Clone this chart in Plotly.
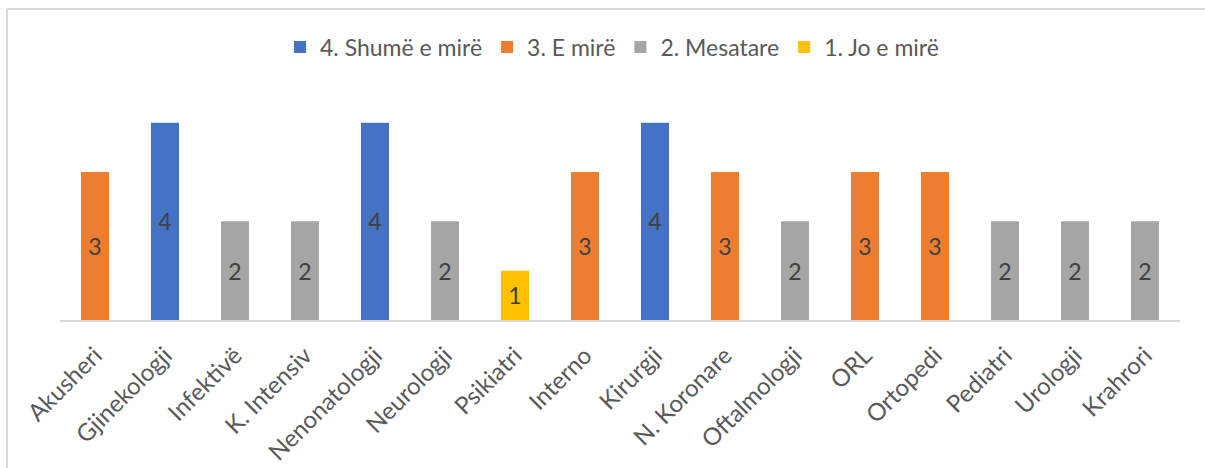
import plotly.graph_objects as go

# Departments and their rating (1-4)
departments = ["Akusheri", "Gjinekologji", "Infektivë", "K. Intensiv", "Nenonatologji",
               "Neurologji", "Psikiatri", "Interno", "Kirurgji", "N. Koronare",
               "Oftalmologji", "ORL", "Ortopedi", "Pediatri", "Urologji", "Krahrori"]
ratings = [3, 4, 2, 2, 4, 2, 1, 3, 4, 3, 2, 3, 3, 2, 2, 2]

rating_levels = [4, 3, 2, 1]
rating_names = ["4. Shumë e mirë", "3. E mirë", "2. Mesatare", "1. Jo e mirë"]
rating_colors = ["#4472C4", "#ED7D31", "#A5A5A5", "#FFC000"]

W, H = 1205, 468
ML, MR, MT, MB = 60, 25, 98, 148
PW, PH = W - ML - MR, H - MT - MB
FONT = "Lato"

fig = go.Figure()
for level, name, color in zip(rating_levels, rating_names, rating_colors):
    xs = [d for d, r in zip(departments, ratings) if r == level]
    ys = [r for r in ratings if r == level]
    fig.add_trace(go.Bar(
        x=xs, y=ys, name=name,
        marker=dict(color=color, line=dict(width=0)),
        width=0.4,
        texttemplate="%{y}", textposition="inside", insidetextanchor="middle",
        textangle=0,
        textfont=dict(family=FONT, size=23, color="#404040"),
        constraintext="none",
        hoverinfo="x+y",
    ))

def px_x(px):
    return (px - ML) / PW

def px_y(py):
    return (H - MB - py) / PH

# light frame along the top and left edges
frame = dict(color="#D9D9D9", width=2)
shapes = [
    dict(type="line", xref="paper", yref="paper",
         x0=px_x(7), x1=px_x(W + 5), y0=px_y(9), y1=px_y(9), line=frame),
    dict(type="line", xref="paper", yref="paper",
         x0=px_x(7), x1=px_x(7), y0=px_y(9), y1=px_y(H + 5), line=frame),
]

fig.update_layout(
    width=W, height=H,
    margin=dict(l=ML, r=MR, t=MT, b=MB, pad=0, autoexpand=False),
    paper_bgcolor="white", plot_bgcolor="white",
    barmode="overlay",
    font=dict(family=FONT, color="#595959"),
    showlegend=True,
    legend=dict(orientation="h", x=px_x(612), xanchor="center",
                y=px_y(47), yanchor="middle",
                font=dict(family=FONT, size=23, color="#595959"),
                traceorder="normal", itemclick=False),
    shapes=shapes,
    xaxis=dict(categoryorder="array", categoryarray=departments,
               tickangle=-45, tickfont=dict(family=FONT, size=24, color="#595959"),
               automargin=False,
               showline=True, linecolor="#D9D9D9", linewidth=2,
               ticks="outside", ticklen=10, tickcolor="rgba(0,0,0,0)",
               showgrid=False, zeroline=False, range=[-0.5, 15.5]),
    yaxis=dict(range=[0, 4.5], showticklabels=False, showgrid=False,
               automargin=False,
               zeroline=False, showline=False, ticks=""),
)

fig.write_html("out.html")
